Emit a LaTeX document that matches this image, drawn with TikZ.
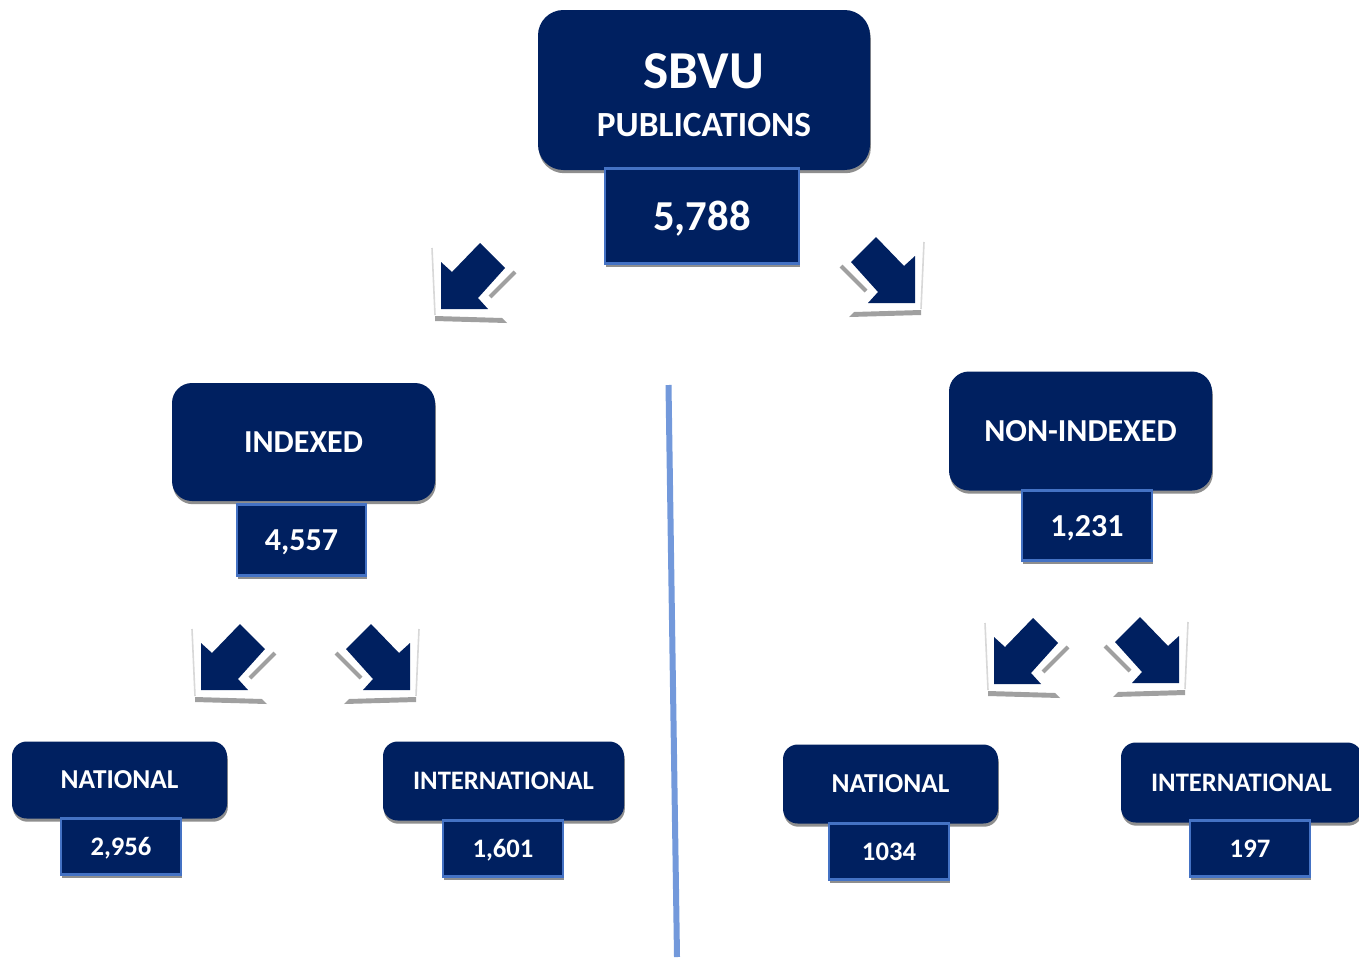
\documentclass[tikz,border=0pt]{standalone}
\usepackage{fontspec}
\setmainfont{Carlito}
\usetikzlibrary{shadows}
\definecolor{navy}{HTML}{002060}
\definecolor{nborder}{HTML}{4472C4}
\definecolor{vline}{HTML}{7399DB}
\definecolor{shad}{HTML}{8E8E8E}
\definecolor{abar}{HTML}{A0A0A0}
\definecolor{aframe}{HTML}{D8D8D8}
\newcommand\fsz[1]{\fontsize{#1}{#1}\selectfont}
\tikzset{
  shd/.style={drop shadow={shadow xshift=0.6pt, shadow yshift=-2.4pt, fill=shad, opacity=1}},
  mainbox/.style={shd, fill=navy, text=white, font=\bfseries, rounded corners=#1, inner sep=0pt, align=center},
  numbox/.style={shd, fill=navy, draw=nborder, line width=1.6pt, text=white, font=\bfseries, inner sep=0pt, text depth=0pt},
  navyfill/.style={fill=navy},
  barfill/.style={fill=abar},
  grayline/.style={draw=abar, line width=3pt},
  frameline/.style={draw=aframe, line width=1.2pt},
  divider/.style={draw=vline, line width=4.5pt},
  pics/bentarrow/.style={code={
    \path[frameline] (-9,-61) -- (-6,6);
    \path[barfill] (-6,7) -- (61,9) -- (66,14) -- (-6,12) -- cycle;
    \path[navyfill] (0,0) -- (0,-47) -- (11,-37) -- (39,-66) -- (64,-41) -- (37,-11) -- (47,0) -- cycle;
    \path[grayline] (49,-12) -- (74,-37);
  }}
}
\begin{document}
\begin{tikzpicture}[x=0.75pt, y=-0.75pt]
\useasboundingbox[fill=white] (0,0) rectangle (1359,957);

% divider
\coordinate (vtop) at (668.5,385);
\coordinate (vbot) at (677,957);
\path[divider] (vtop) -- (vbot);

% arrows
\pic at (441,309) {bentarrow};
\pic[xscale=-1] at (915,303) {bentarrow};
\pic at (201,690) {bentarrow};
\pic[xscale=-1] at (410,690) {bentarrow};
\pic at (994,684) {bentarrow};
\pic[xscale=-1] at (1179,683) {bentarrow};

% top
\node[mainbox=19pt, minimum width=332*0.75pt, minimum height=160*0.75pt] (top) at (704,90) {};
\node[text=white, font=\bfseries\fsz{40pt}] (sbvu) at (704,71) {SBVU};
\node[text=white, font=\bfseries\fsz{26.5pt}] (pub) at (704,125) {PUBLICATIONS};
\node[numbox, minimum width=194*0.75pt, minimum height=95*0.75pt, font=\bfseries\fsz{32pt}] (ntop) at (702,216) {5,788};

% indexed
\node[mainbox=15pt, minimum width=263*0.75pt, minimum height=118*0.75pt, font=\bfseries\fsz{24pt}] (idx) at (303.5,442) {INDEXED};
\node[numbox, minimum width=129*0.75pt, minimum height=71*0.75pt, font=\bfseries\fsz{24pt}] (nidx) at (301.5,540) {4,557};

% non-indexed
\node[mainbox=15pt, minimum width=263*0.75pt, minimum height=119*0.75pt, font=\bfseries\fsz{24pt}] (nonidx) at (1080.5,431) {NON-INDEXED};
\node[numbox, minimum width=130*0.75pt, minimum height=70*0.75pt, font=\bfseries\fsz{24pt}] (nnonidx) at (1087,525.5) {1,231};

% bottom row
\node[mainbox=11pt, minimum width=215*0.75pt, minimum height=77*0.75pt, font=\bfseries\fsz{20.5pt}] (natL) at (119.5,780) {NATIONAL};
\node[numbox, minimum width=120*0.75pt, minimum height=56*0.75pt, font=\bfseries\fsz{20pt}] (nnatL) at (121,846.5) {2,956};

\node[mainbox=11pt, minimum width=241*0.75pt, minimum height=79*0.75pt, font=\bfseries\fsz{20pt}] (intL) at (503.5,781) {INTERNATIONAL};
\node[numbox, minimum width=120*0.75pt, minimum height=56*0.75pt, font=\bfseries\fsz{20pt}] (nintL) at (503,848.5) {1,601};

\node[mainbox=11pt, minimum width=215*0.75pt, minimum height=79*0.75pt, font=\bfseries\fsz{20.5pt}] (natR) at (890.5,784) {NATIONAL};
\node[numbox, minimum width=120*0.75pt, minimum height=56*0.75pt, font=\bfseries\fsz{20pt}] (nnatR) at (889,851.5) {1034};

\node[mainbox=11pt, minimum width=241*0.75pt, minimum height=80*0.75pt, font=\bfseries\fsz{20pt}] (intR) at (1241.5,782.5) {INTERNATIONAL};
\node[numbox, minimum width=120*0.75pt, minimum height=56*0.75pt, font=\bfseries\fsz{20pt}] (nintR) at (1250,848.5) {197};
\end{tikzpicture}
\end{document}
